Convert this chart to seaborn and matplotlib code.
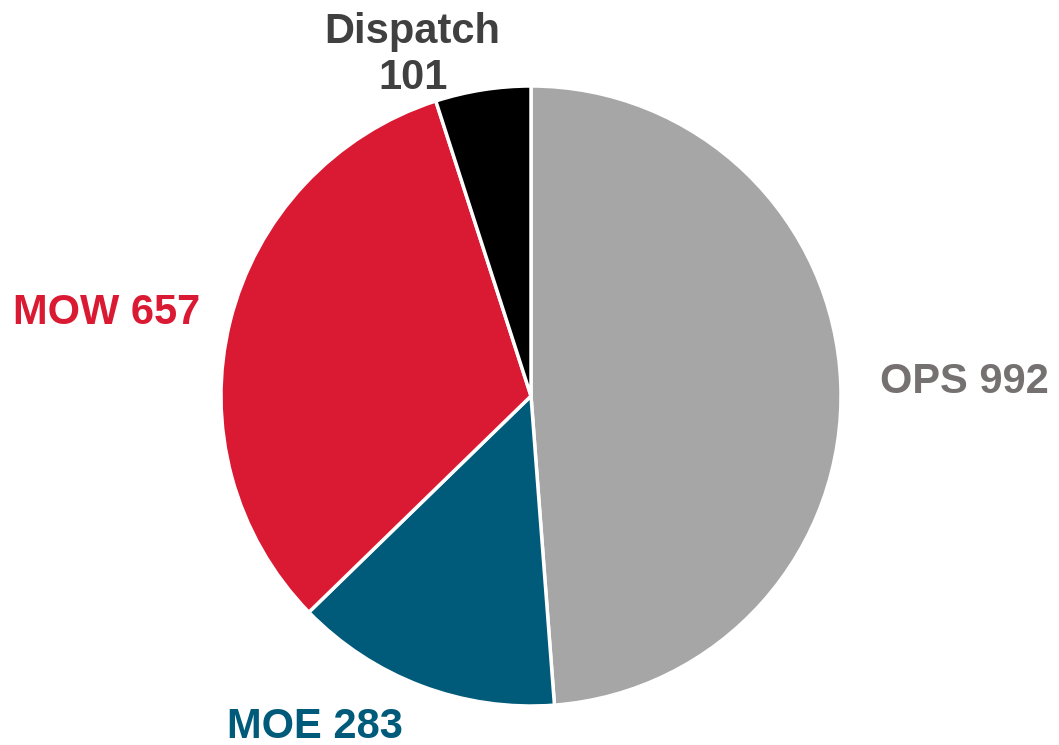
import matplotlib
matplotlib.use("Agg")
import matplotlib.pyplot as plt
import seaborn as sns
import numpy as np

sns.set_style("white")
plt.rcParams['font.family'] = ['Liberation Sans', 'DejaVu Sans']

# data
labels = ['OPS', 'MOE', 'MOW', 'Dispatch']
values = [992, 283, 657, 101]

slice_colors = ['#a6a6a6', '#005a7a', '#da1a33', '#000000']
label_colors = ['#767171', '#005a7a', '#da1a33', '#404040']
# label placement (angle offset in degrees from slice middle, distance in radii)
label_place = [(-0.3, 1.40), (-12.5, 1.275), (2.9, 1.394), (10.2, 1.165)]
label_sep = [' ', ' ', ' ', '\n']

fig = plt.figure(figsize=(10.59, 7.45), dpi=100)
ax = fig.add_axes([0, 0, 1, 1])

cx, cy, r = 531, 396, 310
wedges, _ = ax.pie(values, colors=slice_colors, startangle=90, counterclock=False,
                   wedgeprops=dict(edgecolor='white', linewidth=2.5))

total = sum(values)
ang = 90.0
for i, v in enumerate(values):
    span = v / total * 360
    mid = ang - span / 2
    ang -= span
    off, dist = label_place[i]
    a = np.deg2rad(mid + off)
    ax.text(dist * np.cos(a), dist * np.sin(a), f"{labels[i]}{label_sep[i]}{v}",
            ha='center', va='center', fontsize=30, fontweight='bold',
            color=label_colors[i], linespacing=1.2)

ax.set_xlim(-cx / r, (1059 - cx) / r)
ax.set_ylim(-(745 - cy) / r, cy / r)
ax.set_aspect('equal')
ax.axis('off')

fig.savefig('out.png', dpi=100)
